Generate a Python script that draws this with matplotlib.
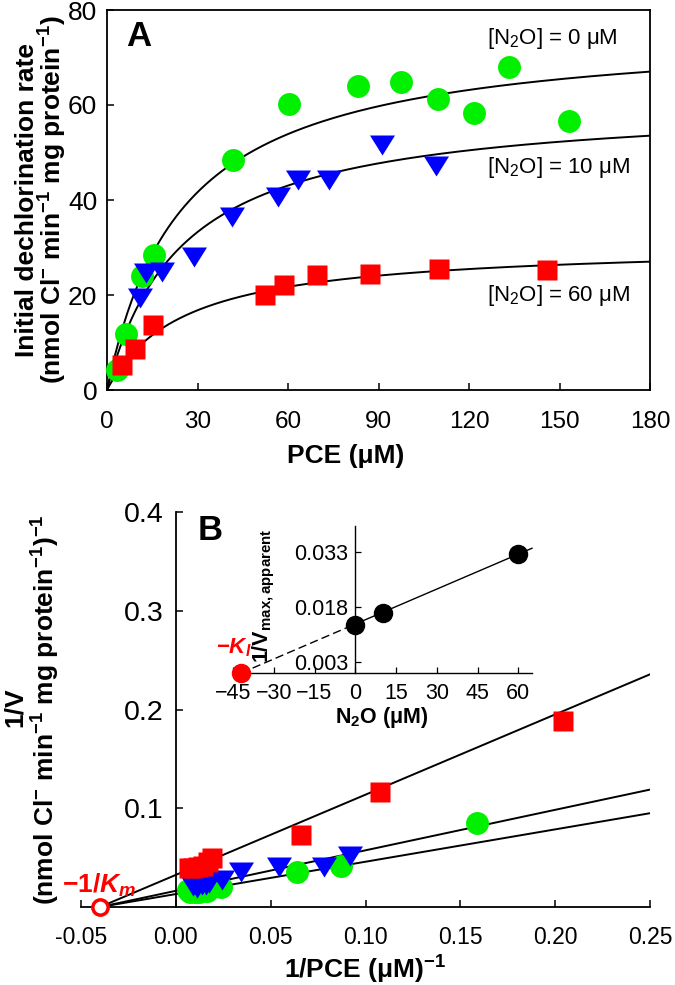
import numpy as np
import matplotlib.pyplot as plt

plt.rcParams['font.family'] = ['Liberation Sans', 'DejaVu Sans']
plt.rcParams['mathtext.fontset'] = 'custom'
plt.rcParams['mathtext.rm'] = 'Liberation Sans'
plt.rcParams['mathtext.it'] = 'Liberation Sans:italic'
plt.rcParams['mathtext.bf'] = 'Liberation Sans:bold'
plt.rcParams['mathtext.bfit'] = 'Liberation Sans:bold:italic'
plt.rcParams['axes.linewidth'] = 1.3

# --- dati ---
# pannello A: velocita' iniziale vs PCE per tre concentrazioni di N2O
pce_0 = [3.2, 6.3, 11.5, 15.6, 41.8, 60.4, 83.3, 97.3, 109.8, 121.5, 133.4, 153.2]
rate_0 = [4.2, 11.8, 23.9, 28.4, 48.4, 60.2, 63.9, 64.9, 61.3, 58.4, 67.9, 56.7]
pce_10 = [10.9, 12.8, 18.3, 28.9, 41.3, 56.8, 63.2, 73.7, 91.3, 109.2]
rate_10 = [19.3, 24.6, 24.9, 28.1, 36.5, 40.7, 44.2, 44.2, 51.6, 47.2]
pce_60 = [4.9, 9.3, 15.1, 52.4, 58.7, 69.5, 87.2, 109.9, 146.0]
rate_60 = [5.3, 8.6, 13.7, 20.1, 22.1, 24.2, 24.4, 25.4, 25.3]

# inset: 1/Vmax apparente vs N2O
n2o = [0, 10, 60]
inv_vmax = [0.0131, 0.0164, 0.0325]
km = 25.0      # da -1/Km
ki = 42.0      # da -KI

labels_n2o = ['[N$_2$O] = 0 μM', '[N$_2$O] = 10 μM', '[N$_2$O] = 60 μM']
label_y = [74.1, 46.9, 20.0]
xticks_B = [-0.05, 0.00, 0.05, 0.10, 0.15, 0.20, 0.25]
xticklabels_B = ['-0.05', '0.00', '0.05', '0.10', '0.15', '0.20', '0.25']
yticks_B = [0.1, 0.2, 0.3, 0.4]
xticks_in = [-45, -30, -15, 0, 15, 30, 45, 60]
yticks_in = [0.003, 0.018, 0.033]

green = '#00F000'
blue = '#0000FF'
red = '#FF0000'
tri = [(-1, 0.8), (1, 0.8), (0, -0.8)]

W, H = 675, 985
fig = plt.figure(figsize=(W / 100, H / 100), dpi=100)


def rect(l, r, t, b):
    return [l / W, 1 - b / H, (r - l) / W, (b - t) / H]


# --- pannello A ---
axA = fig.add_axes(rect(107, 650, 10, 390))
s = np.linspace(0, 180, 400)
for iv in inv_vmax:
    axA.plot(s, (1 / iv) * s / (km + s), color='black', lw=1.4, zorder=2)
axA.plot(pce_0, rate_0, 'o', color=green, ms=16.5, mec='none', zorder=3, clip_on=False)
axA.plot(pce_10, rate_10, marker=tri, ls='none', color=blue, ms=18, mec='none', zorder=3)
axA.plot(pce_60, rate_60, 's', color=red, ms=15, mec='none', zorder=3)
for lab, yy in zip(labels_n2o, label_y):
    axA.text(126, yy, lab, fontsize=16, va='center', ha='left')
axA.set_xlim(0, 180)
axA.set_ylim(0, 80)
axA.set_xticks(range(0, 181, 30))
axA.set_yticks(range(0, 81, 20))
axA.tick_params(axis='x', direction='in', length=5, width=1.1, labelsize=17.5, pad=15)
axA.tick_params(axis='y', direction='in', length=5, width=1.1, labelsize=19, pad=7)
axA.text(0.035, 0.905, 'A', transform=axA.transAxes, fontsize=25, fontweight='bold')

fig.text(27 / W, 1 - 200 / H, 'Initial dechlorination rate', rotation=90,
         ha='center', va='center', fontsize=19, fontweight='bold')
fig.text(53 / W, 1 - 200 / H,
         r'(nmol Cl$^{\mathbf{-}}$ min$^{\mathbf{-1}}$ mg protein$^{\mathbf{-1}}$)',
         rotation=90, ha='center', va='center', fontsize=19, fontweight='bold')
fig.text(346 / W, 1 - 456 / H, 'PCE (μM)', ha='center', va='center',
         fontsize=19, fontweight='bold')

# --- pannello B (Lineweaver-Burk) ---
axB = fig.add_axes(rect(81, 650, 512, 907))
xr = np.linspace(-1 / km, 0.25, 50)
for iv in inv_vmax:
    axB.plot(xr, km * iv * xr + iv, color='black', lw=1.4, zorder=2)
axB.plot(1 / np.array(pce_0), 1 / np.array(rate_0), 'o', color=green, ms=16.5, mec='none', zorder=3)
axB.plot(1 / np.array(pce_10), 1 / np.array(rate_10), marker=tri, ls='none', color=blue,
         ms=18, mec='none', zorder=3)
axB.plot(1 / np.array(pce_60), 1 / np.array(rate_60), 's', color=red, ms=15, mec='none', zorder=3)
axB.plot(-1 / km, 0, 'o', mfc='white', mec=red, mew=2.5, ms=11, zorder=4, clip_on=False)
axB.text(-1 / km - 0.0005, 0.022, r'$\mathbf{-1/}\mathbfit{K}_{\mathbfit{m}}$', color=red,
         fontsize=19, ha='center', va='center')
axB.set_xlim(-0.05, 0.25)
axB.set_ylim(0, 0.4)
axB.spines['left'].set_position(('data', 0))
axB.spines[['top', 'right']].set_visible(False)
axB.set_xticks(xticks_B)
axB.set_xticklabels(xticklabels_B)
axB.set_yticks(yticks_B)
axB.tick_params(axis='x', direction='in', length=5, width=1.1, labelsize=16.5, pad=13.5)
axB.tick_params(axis='y', direction='in', length=5, width=1.1, labelsize=20.5, pad=9)
fig.text(210 / W, 1 - 531 / H, 'B', ha='center', va='center', fontsize=25, fontweight='bold')

fig.text(15 / W, 1 - 707 / H, '1/V', rotation=90, ha='center', va='center',
         fontsize=19, fontweight='bold')
fig.text(46 / W, 1 - 710 / H,
         r'(nmol Cl$^{\mathbf{-}}$ min$^{\mathbf{-1}}$ mg protein$^{\mathbf{-1}}$)$^{\mathbf{-1}}$',
         rotation=90, ha='center', va='center', fontsize=19, fontweight='bold')
fig.text(365 / W, 1 - 970 / H, r'1/PCE (μM)$^{\mathbf{-1}}$', ha='center', va='center',
         fontsize=19, fontweight='bold')

# --- inset ---
axI = fig.add_axes(rect(233, 532, 526, 673))
slope = np.sum((np.array(n2o) + ki) * np.array(inv_vmax)) / np.sum((np.array(n2o) + ki) ** 2)
xd = np.array([-ki, 0])
axI.plot(xd, slope * (xd + ki), color='black', lw=1.0, ls=(0, (6, 3)), zorder=2)
xs = np.array([0, 65])
axI.plot(xs, slope * (xs + ki), color='black', lw=1.0, zorder=2, clip_on=False)
axI.plot(n2o, inv_vmax, 'o', color='black', ms=13, zorder=3)
axI.plot(-ki, 0, 'o', color=red, ms=13, zorder=4, clip_on=False)
axI.text(-ki - 2.5, 0.0068, r'$\mathbf{-}\mathbfit{K}_{\mathbfit{I}}$', color=red, fontsize=16,
         ha='center', va='center')
axI.set_xlim(-45, 65)
axI.set_ylim(0, 0.04)
axI.spines['left'].set_position(('data', 0))
axI.spines[['top', 'right']].set_visible(False)
axI.spines[['left', 'bottom']].set_linewidth(1.0)
axI.set_xticks(xticks_in)
axI.set_yticks(yticks_in)
axI.set_yticklabels(['0.003', '0.018', '0.033'])
axI.tick_params(direction='in', length=4, width=0.9, labelsize=15.5)
axI.tick_params(axis='x', pad=7)
axI.tick_params(axis='y', pad=5)
axI.patch.set_alpha(0)
fig.text(264 / W, 1 - 596 / H, r'$\mathbf{1/V}_{\mathbf{max,apparent}}$', rotation=90,
         ha='center', va='center', fontsize=15.5)
fig.text(382 / W, 1 - 717 / H, r'N$_{\mathbf{2}}$O (μM)', ha='center', va='center',
         fontsize=15.5, fontweight='bold')

fig.savefig('out.png', dpi=100)
